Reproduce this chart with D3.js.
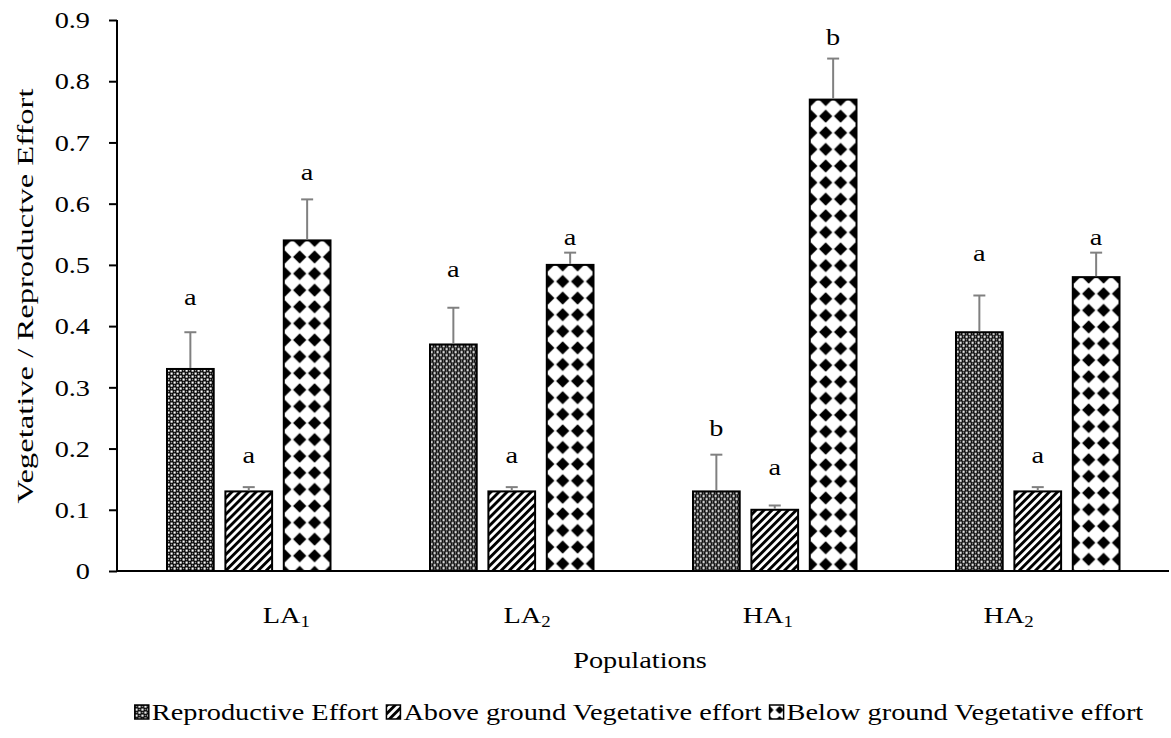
<!DOCTYPE html>
<html>
<head>
<meta charset="utf-8">
<script src="https://cdn.jsdelivr.net/npm/d3@7"></script>
<style>
  html, body { margin: 0; padding: 0; background: #fff; }
  svg { display: block; }
  text { font-family: "Liberation Serif", "Times New Roman", serif; fill: #000; }
</style>
</head>
<body>
<svg id="chart" width="1171" height="738"></svg>
<script>
// ---- data ----
const categories = ["LA", "LA", "HA", "HA"];
const categorySubs = ["1", "2", "1", "2"];
const seriesNames = ["Reproductive Effort", "Above ground Vegetative effort", "Below ground Vegetative effort"];
const reproductive = [0.33, 0.37, 0.13, 0.39];
const aboveGround = [0.13, 0.13, 0.10, 0.13];
const belowGround = [0.54, 0.50, 0.77, 0.48];
const reproductiveErr = [0.06, 0.06, 0.06, 0.06];
const aboveGroundErr = [0.007, 0.007, 0.007, 0.007];
const belowGroundErr = [0.067, 0.02, 0.067, 0.04];
const reproductiveLetters = ["a", "a", "b", "a"];
const aboveGroundLetters = ["a", "a", "a", "a"];
const belowGroundLetters = ["a", "a", "b", "a"];
// heights (in axis units) at which the significance letters sit
const reproductiveLetterAt = [0.443, 0.490, 0.230, 0.516];
const aboveGroundLetterAt = [0.185, 0.185, 0.165, 0.185];
const belowGroundLetterAt = [0.647, 0.541, 0.868, 0.541];
const yTicks = [0, 0.1, 0.2, 0.3, 0.4, 0.5, 0.6, 0.7, 0.8, 0.9];
const yTickLabels = ["0", "0.1", "0.2", "0.3", "0.4", "0.5", "0.6", "0.7", "0.8", "0.9"];
const yTitle = "Vegetative / Reproductve Effort";
const xTitle = "Populations";

const seriesValues = [reproductive, aboveGround, belowGround];
const seriesErrs = [reproductiveErr, aboveGroundErr, belowGroundErr];
const seriesLetters = [reproductiveLetters, aboveGroundLetters, belowGroundLetters];
const seriesLetterAt = [reproductiveLetterAt, aboveGroundLetterAt, belowGroundLetterAt];

const STRETCH = 1.18;   // horizontal glyph stretch seen in the reference
const FS = 24;

const svg = d3.select("#chart");
const defs = svg.append("defs");

// ---- pattern builders ----
function makeRepro(id, ox, oy) {
  const p = defs.append("pattern").attr("id", id).attr("patternUnits", "userSpaceOnUse")
    .attr("x", ox).attr("y", oy).attr("width", 6).attr("height", 6);
  p.append("rect").attr("width", 6).attr("height", 6).attr("fill", "#000");
  p.append("rect").attr("x", 0.5).attr("y", 0.5).attr("width", 2.2).attr("height", 2.2).attr("fill", "#fff");
  p.append("rect").attr("x", 3.5).attr("y", 3.5).attr("width", 2.2).attr("height", 2.2).attr("fill", "#fff");
  p.append("rect").attr("x", 3.8).attr("y", 0.8).attr("width", 1.4).attr("height", 1.4).attr("fill", "#fff").attr("opacity", 0.6);
  p.append("rect").attr("x", 0.8).attr("y", 3.8).attr("width", 1.4).attr("height", 1.4).attr("fill", "#fff").attr("opacity", 0.6);
}
function makeAbove(id, ox, oy) {
  const p = defs.append("pattern").attr("id", id).attr("patternUnits", "userSpaceOnUse")
    .attr("x", ox).attr("y", oy).attr("width", 5.7).attr("height", 5.7).attr("patternTransform", "rotate(45)");
  p.append("rect").attr("width", 5.7).attr("height", 5.7).attr("fill", "#fff");
  p.append("rect").attr("x", 0).attr("width", 2.9).attr("height", 5.7).attr("fill", "#000");
}
function makeBelow(id, ox, oy, tw, th, s) {
  const p = defs.append("pattern").attr("id", id).attr("patternUnits", "userSpaceOnUse")
    .attr("x", ox).attr("y", oy).attr("width", tw).attr("height", th);
  p.append("rect").attr("width", tw).attr("height", th).attr("fill", "#fff");
  const corners = [[0, 0], [tw, 0], [0, th], [tw, th]];
  corners.forEach(([cx, cy]) => {
    p.append("path").attr("d", `M${cx},${cy-6.6*s} L${cx+6.6*s},${cy} L${cx},${cy+6.6*s} L${cx-6.6*s},${cy} Z`).attr("fill", "#000");
    p.append("circle").attr("cx", cx).attr("cy", cy).attr("r", 4.3 * s).attr("fill", "#000");
  });
}

// ---- scales ----
const y = d3.scaleLinear().domain([0, 0.9]).range([571, 20]);
const x0 = d3.scaleBand().domain(d3.range(categories.length)).range([117, 1169]).paddingInner(0).paddingOuter(0);
const x1 = d3.scaleBand().domain(d3.range(seriesNames.length)).range([50, 213.5]).paddingInner(0.2).paddingOuter(0);
const xLabel = d3.scaleBand().domain(d3.range(categories.length)).range([166, 1129]);

// ---- bars ----
const barLayer = svg.append("g");
categories.forEach((c, i) => {
  seriesNames.forEach((s, si) => {
    const v = seriesValues[si][i];
    const bx = x0(i) + x1(si);
    const bw = x1.bandwidth();
    const by = y(v);
    const pid = `pat-${si}-${i}`;
    if (si === 0) makeRepro(pid, bx, by);
    else if (si === 1) makeAbove(pid, bx, by);
    else makeBelow(pid, bx + 1, by, (bw - 2) / 3, 16.6, 1);
    barLayer.append("rect")
      .attr("x", bx).attr("y", by).attr("width", bw).attr("height", y(0) - by)
      .attr("fill", `url(#${pid})`)
      .attr("stroke", "#000").attr("stroke-width", 2);
    const cx = bx + bw / 2;
    const top = y(v + seriesErrs[si][i]);
    barLayer.append("line").attr("x1", cx).attr("x2", cx).attr("y1", by - 1).attr("y2", top)
      .attr("stroke", "#808080").attr("stroke-width", 2);
    barLayer.append("line").attr("x1", cx - 6).attr("x2", cx + 6).attr("y1", top).attr("y2", top)
      .attr("stroke", "#808080").attr("stroke-width", 2);
    barLayer.append("text")
      .attr("transform", `translate(${cx},${y(seriesLetterAt[si][i]) + 5.5}) scale(${STRETCH},1)`)
      .attr("text-anchor", "middle").attr("font-size", FS)
      .text(seriesLetters[si][i]);
  });
});

// ---- axes ----
const yAxis = d3.axisLeft(y).tickValues(yTicks).tickFormat((d, i) => yTickLabels[i]).tickSize(8);
const gy = svg.append("g").attr("transform", "translate(117,0)").call(yAxis);
gy.attr("font-family", null);
gy.select(".domain").remove();
gy.append("line").attr("x1", 0).attr("x2", 0).attr("y1", 20).attr("y2", 572).attr("stroke", "#000").attr("stroke-width", 2);
gy.selectAll(".tick line").attr("stroke", "#000").attr("stroke-width", 2);
gy.selectAll(".tick text")
  .attr("font-size", FS)
  .attr("x", -27 / STRETCH)
  .attr("transform", `scale(${STRETCH},1)`);

svg.append("line").attr("x1", 116).attr("x2", 1169).attr("y1", y(0)).attr("y2", y(0))
  .attr("stroke", "#000").attr("stroke-width", 2);

// category labels with subscripts
categories.forEach((c, i) => {
  const t = svg.append("text")
    .attr("transform", `translate(${xLabel(i) + xLabel.bandwidth() / 2},623) scale(${STRETCH},1)`)
    .attr("text-anchor", "middle")
    .attr("font-size", FS);
  t.append("tspan").text(c);
  t.append("tspan").attr("font-size", 16).attr("dy", 4).text(categorySubs[i]);
});

// titles
svg.append("text").attr("transform", `translate(640,668) scale(${STRETCH},1)`)
  .attr("text-anchor", "middle").attr("font-size", FS).text(xTitle);
svg.append("text").attr("transform", "translate(33,296) rotate(-90) scale(1.36,1)").attr("text-anchor", "middle")
  .attr("font-size", FS).text(yTitle);

// ---- legend ----
const legend = svg.append("g");
let lx = 0;
seriesNames.forEach((s, si) => {
  const g = legend.append("g").attr("transform", `translate(${lx},0)`);
  const pid = `leg-pat-${si}`;
  const sw = 14;
  if (si === 0) makeRepro(pid, 0, 0);
  else if (si === 1) makeAbove(pid, 0, 0);
  else makeBelow(pid, 0, 0, 10, 10, 0.6);
  g.append("rect").attr("x", 0).attr("y", -15).attr("width", sw).attr("height", sw)
    .attr("fill", `url(#${pid})`).attr("stroke", "#000").attr("stroke-width", 1.5);
  const t = g.append("text").attr("transform", `translate(${sw + 3},0) scale(${STRETCH},1)`)
    .attr("font-size", FS).text(s);
  const w = t.node().getComputedTextLength() * STRETCH;
  lx += sw + 3 + w + 8;
});
const totalW = lx - 8;
legend.attr("transform", `translate(${639 - totalW / 2},720)`);
</script>
</body>
</html>
